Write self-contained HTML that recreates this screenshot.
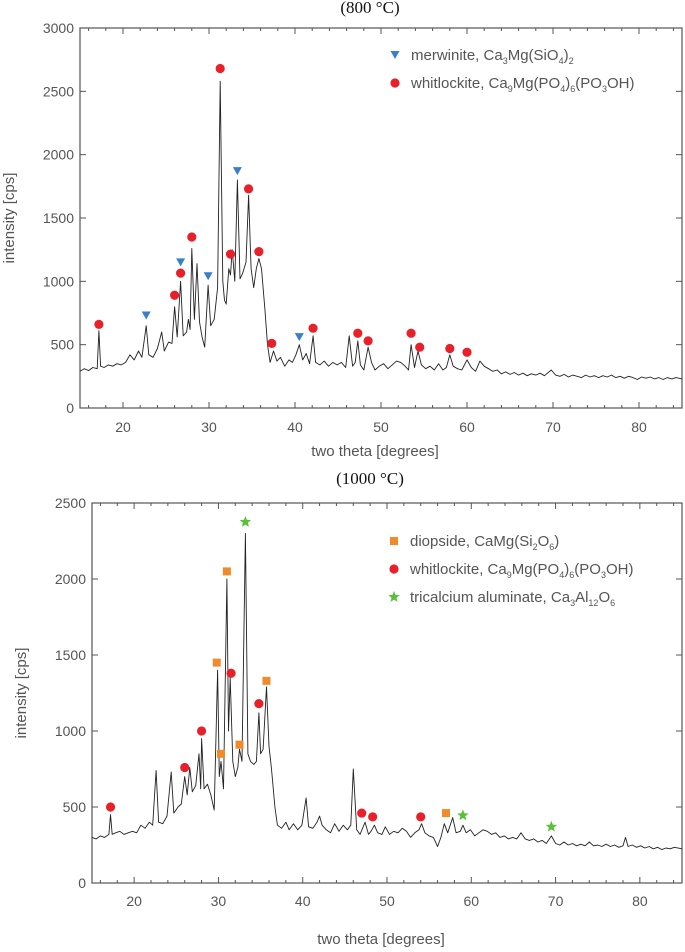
<!DOCTYPE html>
<html><head><meta charset="utf-8"><style>
body{margin:0;background:#fff;}
svg text{font-family:"Liberation Sans",sans-serif;}
svg text.serif{font-family:"Liberation Serif",serif;}
</style></head><body>
<svg id="fig" width="685" height="947" xmlns="http://www.w3.org/2000/svg"></svg>
<script>
const xTicks=[20,30,40,50,60,70,80];
const yTicks800=[0,500,1000,1500,2000,2500,3000];
const yTicks1000=[0,500,1000,1500,2000,2500];
const spectrum800=[[15,290],[15.5,310],[16,295],[16.5,320],[17,310],[17.2,610],[17.4,330],[17.8,320],[18.3,340],[18.8,330],[19.3,350],[19.8,340],[20.3,360],[20.8,420],[21.3,380],[21.8,450],[22.2,400],[22.7,650],[23,420],[23.5,400],[24,470],[24.5,600],[24.8,450],[25.3,520],[25.7,510],[26,800],[26.3,560],[26.7,1000],[27,570],[27.4,600],[27.6,700],[27.8,620],[28,1260],[28.3,700],[28.6,1140],[28.9,680],[29.2,560],[29.5,480],[29.9,970],[30.2,650],[30.6,700],[31,950],[31.3,2580],[31.6,1000],[31.8,850],[32,820],[32.3,1100],[32.5,1050],[32.7,1250],[33,1000],[33.3,1800],[33.6,1020],[33.9,1060],[34.3,1150],[34.6,1680],[34.9,1100],[35.2,950],[35.5,1100],[35.8,1180],[36.1,1100],[36.5,780],[36.8,500],[37.1,360],[37.5,450],[37.9,370],[38.3,400],[38.8,330],[39.3,380],[39.7,360],[40.1,420],[40.5,500],[40.9,380],[41.3,430],[41.7,350],[42.1,570],[42.4,360],[42.9,340],[43.4,370],[43.9,330],[44.4,360],[44.9,340],[45.4,360],[45.9,320],[46.3,570],[46.7,330],[47,360],[47.3,530],[47.6,340],[48,300],[48.5,480],[48.9,360],[49.3,300],[49.8,330],[50.3,350],[50.8,310],[51.3,340],[51.8,370],[52.3,360],[52.8,330],[53.2,300],[53.5,500],[53.9,320],[54.3,450],[54.7,340],[55.2,310],[55.7,330],[56.2,300],[56.7,350],[57.2,300],[57.6,320],[58,420],[58.4,330],[58.9,310],[59.4,300],[60,380],[60.5,320],[61,290],[61.5,370],[62,330],[62.5,310],[63,290],[63.5,300],[64,270],[64.5,285],[65,265],[65.5,280],[66,260],[66.5,275],[67,255],[67.5,270],[68,260],[68.5,275],[69,255],[69.8,300],[70.3,260],[70.8,250],[71.3,265],[71.8,245],[72.3,260],[72.8,250],[73.3,240],[73.8,260],[74.3,245],[74.8,255],[75.3,240],[75.8,255],[76.3,245],[76.8,260],[77.3,240],[77.8,250],[78.3,235],[78.8,250],[79.3,240],[79.8,225],[80.3,245],[80.8,235],[81.3,245],[81.8,230],[82.3,240],[82.8,225],[83.3,240],[83.8,230],[84.3,240],[85,230]];
const spectrum1000=[[15,300],[15.5,290],[16,310],[16.5,300],[17,320],[17.2,450],[17.4,320],[17.8,330],[18.3,340],[18.8,320],[19.3,330],[19.8,340],[20.3,330],[20.8,380],[21.3,360],[21.8,400],[22.2,380],[22.6,740],[22.9,400],[23.4,390],[23.9,440],[24.4,730],[24.7,460],[25.2,500],[25.6,520],[26,700],[26.3,580],[26.6,760],[26.9,600],[27.3,640],[27.7,850],[27.9,620],[28,950],[28.3,620],[28.7,650],[29.1,580],[29.5,480],[29.9,1400],[30.1,700],[30.3,800],[30.6,620],[31,2000],[31.2,1000],[31.4,1350],[31.7,800],[32,700],[32.3,760],[32.5,880],[32.8,800],[33.2,2300],[33.5,850],[33.8,800],[34.2,780],[34.5,800],[34.8,1120],[35,850],[35.3,880],[35.7,1290],[36,900],[36.3,750],[36.7,500],[37,380],[37.5,360],[38,400],[38.4,350],[38.9,390],[39.4,350],[39.9,380],[40.4,560],[40.7,370],[41.2,360],[41.7,400],[42,440],[42.3,380],[42.8,350],[43.3,330],[43.8,390],[44.3,340],[44.8,380],[45.3,350],[45.7,380],[46,750],[46.4,350],[46.8,320],[47.4,400],[47.8,320],[48.1,340],[48.5,380],[48.9,330],[49.4,320],[49.8,370],[50.3,320],[50.8,340],[51.3,330],[51.8,360],[52.3,340],[52.8,300],[53.3,330],[53.8,350],[54.1,390],[54.5,330],[55,310],[55.5,300],[56,240],[56.4,300],[56.8,390],[57.2,330],[57.8,430],[58.2,330],[58.7,340],[59,380],[59.4,330],[59.9,350],[60.4,310],[60.9,330],[61.4,350],[61.9,340],[62.4,320],[62.9,330],[63.4,300],[63.9,310],[64.4,290],[64.9,300],[65.4,290],[65.9,330],[66.4,290],[66.9,280],[67.4,290],[67.9,270],[68.4,280],[68.9,260],[69.5,310],[70,260],[70.5,250],[71,270],[71.5,250],[72,260],[72.5,245],[73,255],[73.5,245],[74,270],[74.5,245],[75,250],[75.5,240],[76,255],[76.5,240],[77,250],[77.5,235],[78,245],[78.3,300],[78.6,240],[79.1,250],[79.6,235],[80.1,245],[80.6,230],[81.1,240],[81.6,225],[82.1,235],[82.6,220],[83.1,230],[83.6,225],[84.1,235],[85,225]];
const merwinite800=[[22.7,730],[26.7,1150],[29.9,1040],[33.3,1870],[40.5,560]];
const whitlockite800=[[17.2,660],[26.0,890],[26.7,1065],[28.0,1350],[31.3,2680],[32.5,1215],[34.6,1730],[35.8,1235],[37.3,510],[42.1,630],[47.3,590],[48.5,530],[53.5,590],[54.5,480],[58.0,470],[60.0,440]];
const diopside1000=[[29.8,1450],[31.0,2050],[30.3,850],[32.5,910],[35.7,1330],[57.0,460]];
const whitlockite1000=[[17.2,500],[26.0,760],[28.0,1000],[31.5,1380],[34.8,1180],[47.0,460],[48.3,435],[54.0,435]];
const aluminate1000=[[33.2,2375],[59.0,445],[69.5,370]];

const NS="http://www.w3.org/2000/svg";
const svg=document.getElementById('fig');
function mk(tag,attrs,parent){const e=document.createElementNS(NS,tag);for(const k in attrs)e.setAttribute(k,attrs[k]);(parent||svg).appendChild(e);return e;}
function txt(parent,x,y,s,size,anchor,fill,cls){const t=mk('text',{x:x,y:y,'font-size':size,'text-anchor':anchor||'middle',fill:fill||'#555'},parent);if(cls)t.setAttribute('class',cls);t.innerHTML=s;return t;}

function panel(cfg){
  const g=mk('g',{});
  
  
  const L=cfg.L,R=cfg.R,T=cfg.T,B=cfg.B;
  const sx=v=>L+(v-15)/70*(R-L);
  const sy=v=>B-v/cfg.ymax*(B-T);
  const tt=txt(g,370,cfg.titleY,cfg.title,17,'middle','#111','serif');
  
  
  const fr=mk('rect',{x:L,y:T,width:R-L,height:B-T,fill:'none',stroke:'#555','stroke-width':1.2},g);
  
  
  for(let v=16;v<=84;v+=2){
    const major=xTicks.includes(v);const len=major?6:3;
    mk('line',{x1:sx(v),x2:sx(v),y1:B,y2:B-len,stroke:'#555','stroke-width':1},g);
    mk('line',{x1:sx(v),x2:sx(v),y1:T,y2:T+len,stroke:'#555','stroke-width':1},g);
  }
  xTicks.forEach(v=>{const t=txt(g,sx(v),cfg.tickY,v,14);
    
    });
  cfg.yTicks.forEach(v=>{
    mk('line',{x1:L,x2:L+6,y1:sy(v),y2:sy(v),stroke:'#555'},g);
    mk('line',{x1:R,x2:R-6,y1:sy(v),y2:sy(v),stroke:'#555'},g);
    const t=txt(g,L-6,sy(v)+5,v,14,'end');
    
    
  });
  const xt=txt(g,(L+R)/2-6,cfg.xTitleY,'two theta [degrees]',15);
  
  
  const cy=(T+B)/2;
  const yt=txt(g,0,0,'intensity [cps]',15);
  yt.setAttribute('transform','translate('+cfg.yTitleX+','+cy+') rotate(-90)');
  
  
  const d=cfg.spectrum.map((p,i)=>(i?'L':'M')+sx(p[0]).toFixed(1)+','+sy(p[1]).toFixed(1)).join('');
  const line=mk('path',{d:d,fill:'none',stroke:'#222','stroke-width':0.9,'stroke-linejoin':'round'},g);
  
  
  cfg.markers.forEach(m=>{m.data.forEach(p=>{const e=drawMarker(g,m.shape,sx(p[0]),sy(p[1]),m.color);
    
    });});
  cfg.markers.forEach((m,i)=>{
    const y=cfg.legY+i*cfg.legGap;
    const e=drawMarker(g,m.shape,cfg.legX,y,m.color);
    
    
    const t=txt(g,cfg.legX+16,y+5,m.label,15,'start');
    
    
  });
}
function drawMarker(g,shape,x,y,c){
  if(shape==='circle')return mk('circle',{cx:x,cy:y,r:4.6,fill:c},g);
  if(shape==='tri')return mk('polygon',{points:(x-4.5)+','+(y-4)+' '+(x+4.5)+','+(y-4)+' '+x+','+(y+4),fill:c},g);
  if(shape==='square')return mk('rect',{x:x-4,y:y-4,width:8,height:8,fill:c},g);
  let pts=[];for(let k=0;k<10;k++){const r=k%2?2.6:6;const a=-Math.PI/2+k*Math.PI/5;pts.push((x+r*Math.cos(a)).toFixed(1)+','+(y+r*Math.sin(a)).toFixed(1));}
  return mk('polygon',{points:pts.join(' '),fill:c},g);
}
const sub=s=>'<tspan font-size="9" baseline-shift="-4">'+s+'</tspan>';
panel({name:'panel-800c',L:80,R:682,T:28,B:408,ymax:3000,yTicks:yTicks800,title:'(800 °C)',titleY:13,tickY:432,xTitleY:456,yTitleX:14,spectrum:spectrum800,legX:395,legY:55,legGap:28,
 markers:[{key:'merwinite',shape:'tri',color:'#3a7fc8',data:merwinite800,label:'merwinite, Ca'+sub('3')+'Mg(SiO'+sub('4')+')'+sub('2')},
          {key:'whitlockite',shape:'circle',color:'#e8202a',data:whitlockite800,label:'whitlockite, Ca'+sub('9')+'Mg(PO'+sub('4')+')'+sub('6')+'(PO'+sub('3')+'OH)'}]});
panel({name:'panel-1000c',L:92,R:682,T:503,B:883,ymax:2500,yTicks:yTicks1000,title:'(1000 °C)',titleY:484,tickY:906,xTitleY:944,yTitleX:26,spectrum:spectrum1000,legX:394,legY:541,legGap:28,
 markers:[{key:'diopside',shape:'square',color:'#f08a2a',data:diopside1000,label:'diopside, CaMg(Si'+sub('2')+'O'+sub('6')+')'},
          {key:'whitlockite',shape:'circle',color:'#e8202a',data:whitlockite1000,label:'whitlockite, Ca'+sub('9')+'Mg(PO'+sub('4')+')'+sub('6')+'(PO'+sub('3')+'OH)'},
          {key:'tricalcium-aluminate',shape:'star',color:'#5cbf3a',data:aluminate1000,label:'tricalcium aluminate, Ca'+sub('3')+'Al'+sub('12')+'O'+sub('6')}]});
</script>
</body></html>
